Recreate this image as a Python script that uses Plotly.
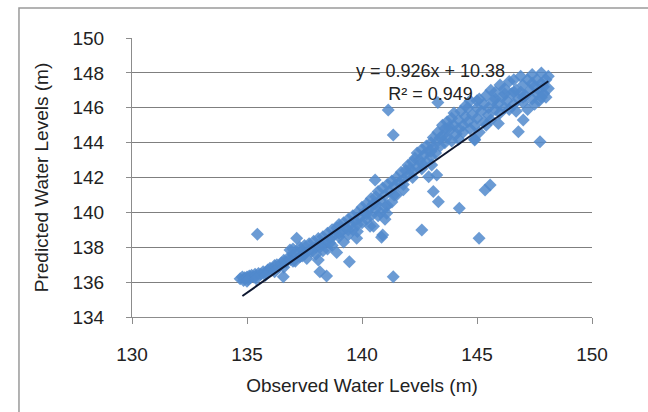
import plotly.graph_objects as go

# Observed vs predicted water levels (m)
observed = [
    134.7, 134.8, 134.85, 134.9, 135.0, 135.05, 135.1, 135.15, 135.2, 135.3, 135.35, 135.4, 135.5, 135.6, 135.7, 135.8, 135.9, 136.0, 136.1, 136.2,
    136.3, 136.4, 136.5, 136.6, 136.7, 136.8, 136.9, 137.0, 137.0, 137.1, 137.2, 137.3, 137.3, 137.4, 137.5, 137.5,
    137.6, 137.7, 137.8, 137.9, 138.0, 138.0, 138.1, 138.2, 138.3, 138.3, 138.4, 138.5, 138.5, 138.6, 138.7, 138.7, 138.8, 138.9, 138.9, 139.0, 139.0,
    139.1, 139.2, 139.2, 139.3, 139.4, 139.4, 139.5, 139.6, 139.6, 139.7, 139.8, 139.8, 139.9, 140.0, 140.0, 140.1, 140.2, 140.2, 140.3, 140.4, 140.4, 140.5, 140.5,
    140.6, 140.6, 140.7, 140.7, 140.8, 140.8, 140.9, 140.9, 141.0, 141.0, 141.1, 141.1, 141.2, 141.3, 141.3, 141.4, 141.5, 141.5, 141.6, 141.7, 141.8, 141.8, 141.9, 142.0, 142.0,
    142.1, 142.2, 142.2, 142.3, 142.4, 142.4, 142.5, 142.6, 142.6, 142.7, 142.8, 142.8, 142.9, 143.0, 143.0, 143.1, 143.1, 143.2, 143.3, 143.3, 143.4, 143.5, 143.5,
    143.6, 143.6, 143.7, 143.7, 143.8, 143.9, 143.9, 144.0, 144.0, 144.1, 144.2, 144.2, 144.3, 144.4, 144.4, 144.5, 144.5, 144.6, 144.7, 144.7, 144.8, 144.9, 144.9, 145.0, 145.0,
    145.1, 145.1, 145.2, 145.3, 145.3, 145.4, 145.5, 145.5, 145.6, 145.6, 145.7, 145.8, 145.8, 145.9, 146.0, 146.0, 146.1, 146.2, 146.2, 146.3, 146.4, 146.4, 146.5,
    146.6, 146.6, 146.7, 146.7, 146.8, 146.9, 146.9, 147.0, 147.0, 147.1, 147.2, 147.2, 147.3, 147.4, 147.4, 147.5, 147.5, 147.6, 147.6, 147.7, 147.7, 147.8, 147.8, 147.9, 147.9, 148.0, 148.0, 148.1, 148.1,
    135.0, 135.4, 135.8, 136.2, 136.6, 137.0, 137.4, 137.8, 138.2, 138.6, 139.0, 139.4, 139.8, 140.2, 140.6, 141.0, 141.4, 141.8,
    142.2, 142.6, 143.0, 143.4, 143.8, 144.2, 144.6, 145.0, 145.4, 145.8, 146.2, 146.6, 147.0, 147.4, 147.8,
    135.45, 136.58, 137.16, 136.87, 138.1, 138.17, 138.46, 139.45, 139.77, 140.85, 141.36, 141.07, 140.35, 145.57, 145.35, 143.1,
    143.32, 144.23, 142.6, 145.09, 141.14, 141.36, 147.74, 146.8, 147.01, 145.93, 143.3, 143.03, 142.9, 143.25, 140.57, 144.9,
]
predicted = [
    136.2, 136.3, 136.1, 136.25, 136.3, 136.15, 136.35, 136.25, 136.4, 136.3, 136.45, 136.35, 136.5, 136.45, 136.6, 136.55, 136.7, 136.8, 136.75, 136.95,
    137.0, 136.9, 137.1, 137.25, 137.15, 137.4, 137.3, 137.55, 137.9, 137.2, 137.7, 137.45, 138.0, 137.8, 138.1, 137.6,
    137.35, 138.2, 137.9, 138.35, 138.0, 137.6, 138.5, 138.2, 137.8, 138.6, 138.3, 138.8, 137.9, 138.5, 138.1, 139.0, 138.7, 137.7, 139.1, 138.6, 139.3,
    138.9, 139.4, 138.3, 139.1, 139.6, 138.7, 139.3, 139.8, 139.0, 139.5, 140.0, 138.9, 139.7, 140.3, 139.4, 140.0, 140.5, 139.6, 140.2, 140.8, 139.8, 140.5, 139.2,
    140.9, 140.2, 141.2, 139.8, 140.7, 140.0, 141.4, 138.7, 141.0, 139.6, 141.6, 140.4, 141.2, 141.8, 140.6, 141.5, 142.0, 141.0, 141.7, 142.3, 141.9, 141.3, 142.4, 142.1, 142.7,
    142.5, 142.9, 142.0, 143.1, 142.6, 143.4, 143.0, 143.6, 142.5, 143.3, 143.8, 142.9, 143.5, 144.0, 143.2, 144.3, 143.7, 143.4, 144.1, 144.6, 143.8, 144.4, 145.0,
    144.0, 144.8, 145.2, 144.3, 144.7, 145.4, 144.1, 145.0, 145.7, 144.5, 145.3, 144.2, 145.8, 145.0, 144.6, 145.5, 146.1, 145.2, 144.8, 146.4, 145.6, 145.0, 144.2, 146.0, 145.4,
    146.5, 144.6, 145.8, 146.2, 145.2, 146.7, 145.6, 146.0, 147.0, 145.3, 146.4, 145.9, 146.9, 146.2, 147.3, 145.7, 146.6, 146.0, 147.1, 146.4, 147.5, 145.9, 146.8,
    146.2, 147.6, 147.0, 145.8, 146.5, 147.8, 146.9, 146.3, 147.3, 146.7, 147.6, 145.9, 147.0, 146.5, 147.9, 147.2, 146.2, 146.8, 147.6, 147.0, 146.4, 147.4, 148.0, 146.8, 147.2, 147.6, 146.6, 147.1, 147.8,
    136.05, 136.2, 136.4, 136.6, 136.85, 137.2, 137.5, 137.75, 138.05, 138.25, 138.8, 139.0, 139.3, 139.9, 140.5, 140.3, 141.0, 141.6,
    142.3, 142.8, 143.5, 144.3, 144.9, 144.8, 146.0, 146.4, 145.0, 146.5, 146.8, 146.9, 146.6, 147.4, 146.6,
    138.75, 136.31, 138.51, 137.84, 137.27, 136.6, 136.35, 137.17, 138.51, 138.57, 136.31, 139.95, 139.2, 141.57, 141.28, 141.19,
    140.61, 140.23, 138.99, 138.51, 145.87, 144.44, 144.05, 144.63, 145.3, 145.1, 146.3, 142.72, 142.05, 142.14, 141.86, 144.15,
]

# Linear trendline shown on the chart: y = 0.926x + 10.38
slope, intercept = 0.926, 10.38
fit_x = [134.8, 148.1]
fit_y = [slope * v + intercept for v in fit_x]

x_ticks = [130, 135, 140, 145, 150]
y_ticks = [134, 136, 138, 140, 142, 144, 146, 148, 150]

FONT = "Liberation Sans, Arial, sans-serif"

fig = go.Figure()
fig.add_trace(go.Scatter(
    x=observed, y=predicted, mode="markers",
    marker=dict(symbol="diamond", size=10, color="#5189cc", opacity=0.85,
                line=dict(width=0)),
    showlegend=False, hoverinfo="x+y",
))
fig.add_trace(go.Scatter(
    x=fit_x, y=fit_y, mode="lines",
    line=dict(color="#0d1730", width=2),
    showlegend=False, hoverinfo="skip",
))

fig.add_annotation(
    x=142.96, y=147.42, xref="x", yref="y",
    text="y = 0.926x + 10.38<br>R² = 0.949", showarrow=False,
    xanchor="center", yanchor="middle",
    font=dict(family=FONT, size=18, color="#222222"),
)

# chart-area border (extends past the right/bottom of the picture)
fig.add_shape(type="rect", xref="paper", yref="paper",
              x0=-0.2457, x1=1.2, y0=-0.45, y1=1.1075,
              line=dict(color="#9a9a9a", width=1.5), layer="below")

fig.update_layout(
    width=648, height=412,
    margin=dict(l=132, r=56, t=38, b=95),
    paper_bgcolor="white", plot_bgcolor="white",
    font=dict(family=FONT, size=19, color="#222222"),
    xaxis=dict(
        range=[130, 150], tickvals=x_ticks, ticktext=[str(v) for v in x_ticks],
        showgrid=False, zeroline=False,
        showline=True, linecolor="#8c8c8c", linewidth=1,
        ticks="outside", ticklen=6, tickcolor="#8c8c8c",
        ticklabelstandoff=14,
        title=dict(text="Observed Water Levels (m)", standoff=14,
                   font=dict(family=FONT, size=19)),
    ),
    yaxis=dict(
        range=[134, 150], tickvals=y_ticks, ticktext=[str(v) for v in y_ticks],
        showgrid=True, gridcolor="#7f7f7f", gridwidth=1, zeroline=False,
        showline=True, linecolor="#8c8c8c", linewidth=1,
        ticks="outside", ticklen=5, tickcolor="#8c8c8c",
        ticklabelstandoff=18,
        title=dict(text="Predicted Water Levels (m)", standoff=18,
                   font=dict(family=FONT, size=19)),
    ),
)

fig.write_html("out.html")
